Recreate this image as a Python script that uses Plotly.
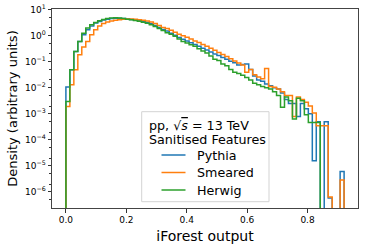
import numpy as np
import plotly.graph_objects as go

# Histogram bins (iForest output), 70 bins from 0 to ~0.921
bin_lo = 0.0
bin_hi = 0.921
n_bins = 70

# log10(density) per bin; None = empty bin
pythia_log10 = [
    -1.97, -1.31, -0.60, -0.22, 0.04, 0.23, 0.38, 0.49, 0.55, 0.61,
    0.64, 0.66, 0.67, 0.67, 0.66, 0.65, 0.63, 0.61, 0.58, 0.55,
    0.51, 0.46, 0.40, 0.32, 0.24, 0.18, 0.10, 0.02, -0.07, -0.13,
    -0.20, -0.27, -0.33, -0.40, -0.48, -0.55, -0.62, -0.70, -0.76, -0.83,
    -0.90, -0.98, -1.04, -1.12, -1.10, -1.08, -1.30, -1.55, -1.70, -1.75,
    -1.85, -1.92, -2.00, -2.05, -2.20, -2.45, -2.60, -2.60, -3.10, -2.60,
    -2.80, -3.00, -4.80, -3.30, None, -3.30, -6.24, None, None, -5.22,
]
smeared_log10 = [
    -2.72, -1.88, -1.31, -0.73, -0.43, -0.22, 0.04, 0.23, 0.38, 0.47,
    0.53, 0.57, 0.60, 0.62, 0.64, 0.65, 0.65, 0.64, 0.62, 0.60,
    0.57, 0.53, 0.47, 0.40, 0.32, 0.28, 0.21, 0.14, 0.06, 0.00,
    -0.06, -0.12, -0.20, -0.26, -0.33, -0.40, -0.48, -0.56, -0.64, -0.72,
    -0.80, -0.88, -0.97, -1.05, -1.12, -1.40, -1.30, -1.50, -1.58, -1.65,
    -1.26, -1.95, -1.98, -2.05, -2.15, -2.30, -2.30, -3.10, -2.35, -2.45,
    -2.55, -2.70, -2.97, -3.46, -3.46, -3.46, -6.20, None, None, -5.54,
]
herwig_log10 = [
    -2.53, -1.31, -0.60, -0.22, 0.10, 0.30, 0.42, 0.51, 0.58, 0.63,
    0.66, 0.68, 0.69, 0.68, 0.66, 0.64, 0.62, 0.59, 0.56, 0.52,
    0.48, 0.42, 0.36, 0.28, 0.20, 0.12, 0.06, -0.02, -0.12, -0.22,
    -0.28, -0.34, -0.40, -0.50, -0.58, -0.66, -0.78, -0.90, -0.95, -1.08,
    -1.15, -1.30, -1.40, -1.45, -1.52, -1.60, -1.70, -1.82, -1.88, -1.95,
    -2.00, -2.05, -2.15, -2.30, -2.75, -2.35, -2.50, -3.20, -2.40, -2.50,
    -3.04, -3.33, -3.33, -3.33, None, None, None, None, None, None,
]

series_names = ["Pythia", "Smeared", "Herwig"]
series_colors = ["#1f77b4", "#ff7f0e", "#2ca02c"]
series_values = [pythia_log10, smeared_log10, herwig_log10]

legend_title_lines = ["pp, √<span style='text-decoration:overline'><i>s</i></span> = 13 TeV",
                      "Sanitised Features"]

x_ticks = [0.0, 0.2, 0.4, 0.6, 0.8]
x_ticklabels = ["0.0", "0.2", "0.4", "0.6", "0.8"]
y_ticks = [1e-6, 1e-5, 1e-4, 1e-3, 1e-2, 1e-1, 1e0, 1e1]
y_ticklabels = ["10<sup>−6</sup>", "10<sup>−5</sup>", "10<sup>−4</sup>", "10<sup>−3</sup>",
                "10<sup>−2</sup>", "10<sup>−1</sup>", "10<sup>0</sup>", "10<sup>1</sup>"]

edges = np.linspace(bin_lo, bin_hi, n_bins + 1)
FLOOR = 1e-12  # empty bins drop below the axis, as matplotlib clips them

fig = go.Figure()
for name, color, vals in zip(series_names, series_colors, series_values):
    dens = [FLOOR if v is None else 10 ** v for v in vals]
    xs = [edges[0]] + list(edges[:-1]) + [edges[-1], edges[-1]]
    ys = [FLOOR] + dens + [dens[-1], FLOOR]
    fig.add_trace(go.Scatter(
        x=xs, y=ys, mode="lines", name=name, showlegend=False,
        line=dict(color=color, width=1.5, shape="hv"),
    ))

# ---- plot geometry (pixels) used to place the matplotlib-style legend box ----
W, H = 365, 247
ML, MR, MT, MB = 52, 7, 9, 39
PW, PH = W - ML - MR, H - MT - MB


def px(xp):
    return (xp - ML) / PW


def py(yp):
    return (H - MB - yp) / PH


font_family = "DejaVu Sans"
leg_font = 12.7

shapes = [
    dict(type="rect", xref="paper", yref="paper", layer="above",
         x0=px(141.7), x1=px(269), y0=py(201.7), y1=py(111.7),
         fillcolor="rgba(255,255,255,0.8)", line=dict(color="#d3d3d3", width=1)),
]
annotations = []
for i, line_text in enumerate(legend_title_lines):
    annotations.append(dict(
        xref="paper", yref="paper", x=px(146.5), y=py(125 + 14 * i),
        xanchor="left", yanchor="middle", showarrow=False, text=line_text,
        font=dict(family=font_family, size=leg_font, color="black"),
    ))
for i, (name, color) in enumerate(zip(series_names, series_colors)):
    yc = 155 + 17.5 * i
    shapes.append(dict(type="line", xref="paper", yref="paper", layer="above",
                       x0=px(161.5), x1=px(185.5), y0=py(yc), y1=py(yc),
                       line=dict(color=color, width=1.5)))
    annotations.append(dict(
        xref="paper", yref="paper", x=px(194.5), y=py(yc),
        xanchor="left", yanchor="middle", showarrow=False, text=name,
        font=dict(family=font_family, size=leg_font, color="black"),
    ))

fig.update_layout(
    width=W, height=H,
    margin=dict(l=ML, r=MR, t=MT, b=MB),
    paper_bgcolor="white", plot_bgcolor="white",
    font=dict(family=font_family, size=9, color="black"),
    showlegend=False,
    shapes=shapes,
    annotations=annotations,
    xaxis=dict(
        range=[-0.046, 0.967], automargin=False,
        tickvals=x_ticks, ticktext=x_ticklabels,
        ticks="outside", ticklen=3.5, tickwidth=0.8, tickcolor="#333",
        showline=True, linecolor="#444", linewidth=1, mirror=True,
        showgrid=False, zeroline=False,
        title=dict(text="iForest output", font=dict(family=font_family, size=14), standoff=6),
        tickfont=dict(family=font_family, size=9),
    ),
    yaxis=dict(
        type="log", range=[-6.62, 1.03], automargin=False,
        tickvals=y_ticks, ticktext=y_ticklabels,
        ticks="outside", ticklen=3.5, tickwidth=0.8, tickcolor="#333",
        minor=dict(ticks="outside", ticklen=2, tickwidth=0.6, tickcolor="#333", showgrid=False),
        showline=True, linecolor="#444", linewidth=1, mirror=True,
        showgrid=False, zeroline=False,
        title=dict(text="Density (arbitrary units)", font=dict(family=font_family, size=13), standoff=4),
        tickfont=dict(family=font_family, size=9),
    ),
)

fig.write_html("out.html", config={"displayModeBar": False},
               post_script="document.body.style.margin='0';document.body.style.overflow='hidden';")
